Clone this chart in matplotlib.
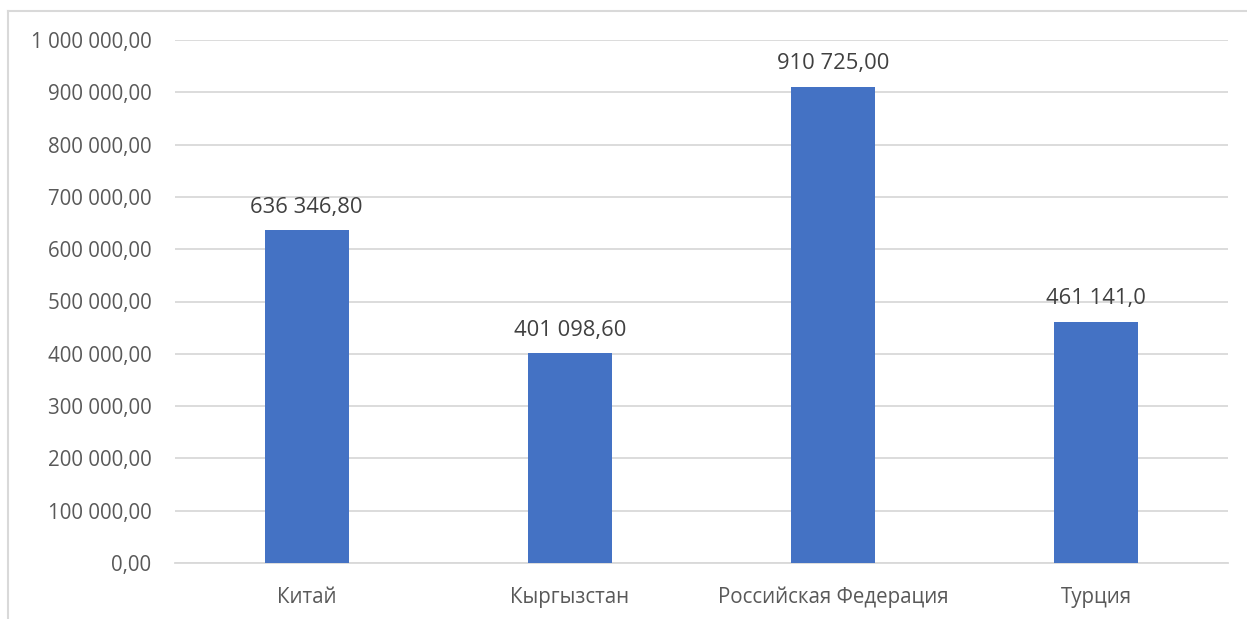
import matplotlib
matplotlib.use("Agg")
import matplotlib.pyplot as plt
from matplotlib.ticker import FuncFormatter
from matplotlib.lines import Line2D

categories = ["Китай", "Кыргызстан", "Российская Федерация", "Турция"]
values = [636346.80, 401098.60, 910725.00, 461141.0]
value_labels = ["636 346,80", "401 098,60", "910 725,00", "461 141,0"]
yticks = [0, 100000, 200000, 300000, 400000, 500000, 600000, 700000, 800000, 900000, 1000000]

plt.rcParams['font.family'] = ['Open Sans', 'DejaVu Sans']
text_color = "#595959"

fig = plt.figure(figsize=(12.47, 6.19), dpi=100)
ax = fig.add_axes([175/1247, 1-563/619, (1228-175)/1247, (563-40)/619])

x = list(range(len(categories)))
ax.bar(x, values, width=0.32, color="#4472C4", zorder=3)
ax.set_xlim(-0.5, len(categories)-0.5)
ax.set_ylim(0, 1000000)
ax.set_yticks(yticks)

def fmt(v, pos):
    s = f"{v:,.2f}"
    return s.replace(",", " ").replace(".", ",")
ax.yaxis.set_major_formatter(FuncFormatter(fmt))

ax.grid(axis="y", color="#D9D9D9", linewidth=1.3, zorder=0)
for s in ["top", "right", "left"]:
    ax.spines[s].set_visible(False)
ax.spines["bottom"].set_color("#D9D9D9")
ax.spines["bottom"].set_linewidth(1.3)
ax.tick_params(axis="both", length=0, colors=text_color, labelsize=14.8)
ax.tick_params(axis="y", pad=17)
ax.tick_params(axis="x", pad=17)
ax.set_xticks(x)
ax.set_xticklabels(categories)

for xi, v, lab in zip(x, values, value_labels):
    ax.annotate(lab, (xi, v), xytext=(0, 9), textcoords="offset points",
                ha="center", va="bottom", fontsize=15.8, color="#404040", zorder=4)

# outer frame (light gray, left and top)
fig.add_artist(Line2D([8/1247, 8/1247], [0, 1-11/619], transform=fig.transFigure, color="#D9D9D9", linewidth=1.5))
fig.add_artist(Line2D([8/1247, 1], [1-11/619, 1-11/619], transform=fig.transFigure, color="#D9D9D9", linewidth=1.5))

fig.savefig("out.png", dpi=100)
